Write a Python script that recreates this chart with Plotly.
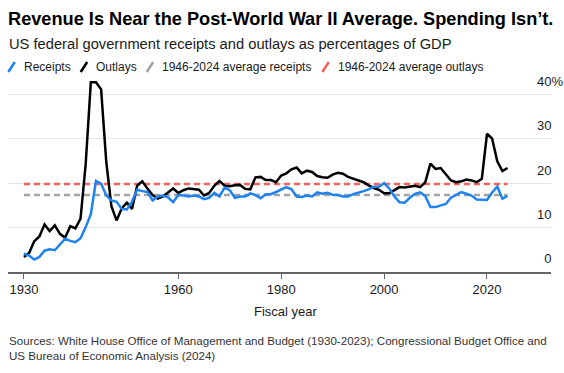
import plotly.graph_objects as go

years = list(range(1930, 2025))
receipts = [
    4.1, 3.7, 2.8, 3.4, 4.8, 5.1, 4.9, 6.1, 7.5, 7.0,
    6.7, 7.6, 10.1, 13.0, 20.5, 19.9, 17.2, 16.1, 15.8, 14.2,
    14.1, 15.8, 18.5, 18.2, 18.0, 16.1, 17.0, 17.2, 16.8, 15.7,
    17.3, 17.2, 17.0, 17.2, 17.0, 16.4, 16.7, 17.8, 17.0, 19.0,
    18.4, 16.7, 17.0, 17.0, 17.7, 17.3, 16.6, 17.5, 17.5, 18.0,
    18.5, 19.1, 18.6, 17.0, 16.9, 17.2, 17.0, 17.9, 17.6, 17.8,
    17.4, 17.3, 17.0, 17.0, 17.5, 17.8, 18.2, 18.6, 19.2, 19.2,
    20.0, 18.8, 17.0, 15.7, 15.6, 16.7, 17.6, 17.9, 17.1, 14.6,
    14.6, 15.0, 15.3, 16.7, 17.4, 18.0, 17.6, 17.2, 16.3, 16.3,
    16.2, 17.9, 19.2, 16.5, 17.1,
]
outlays = [
    3.4, 4.3, 6.9, 8.0, 10.7, 9.2, 10.5, 8.6, 7.7, 10.3,
    9.8, 12.0, 24.3, 42.7, 42.7, 41.1, 24.8, 14.8, 11.6, 14.3,
    15.6, 14.2, 19.4, 20.4, 18.8, 17.3, 16.5, 17.0, 17.9, 18.8,
    17.8, 18.4, 18.8, 18.6, 18.5, 17.2, 17.8, 19.4, 20.5, 19.4,
    19.3, 19.5, 19.6, 18.7, 18.6, 21.3, 21.4, 20.7, 20.7, 20.2,
    21.7, 22.2, 23.1, 23.5, 22.2, 22.8, 22.5, 21.6, 21.3, 21.2,
    21.9, 22.3, 22.1, 21.4, 21.0, 20.6, 20.2, 19.5, 18.9, 18.5,
    17.7, 17.7, 18.5, 19.1, 19.0, 19.2, 19.4, 19.1, 20.2, 24.4,
    23.2, 23.4, 21.9, 20.6, 20.2, 20.4, 20.8, 20.6, 20.2, 21.0,
    31.1, 30.0, 24.9, 22.7, 23.4,
]
avg_receipts = 17.3
avg_outlays = 19.8

x_ticks = [1930, 1960, 1980, 2000, 2020]
y_ticks = [0, 10, 20, 30, 40]
y_labels = ["0", "10", "20", "30", "40%"]
legend_names = ["Receipts", "Outlays", "1946-2024 average receipts",
                "1946-2024 average outlays"]

BLUE = "#1e82f0"
BLACK = "#000000"
GRAY = "#a3a3a3"
RED = "#f2625f"
legend_colors = [BLUE, BLACK, GRAY, RED]
FONT = "Liberation Sans, Arial, sans-serif"
TXT = "#1a1a1a"
HIDE = "<span style='color:rgba(0,0,0,0)'>%</span>"

W, H = 564, 373
ML, MR, MT, MB = 8, 0, 72, 101
PW = W - ML - MR
PH = H - MT - MB


def px(xp):
    return (xp - ML) / PW


def py(yp):
    return (H - MB - yp) / PH


fig = go.Figure()

fig.add_trace(go.Scatter(x=years, y=[avg_receipts] * len(years), mode="lines",
                         line=dict(color=GRAY, width=2.5, dash="6px,4px"),
                         name=legend_names[2], hoverinfo="skip"))
fig.add_trace(go.Scatter(x=years, y=[avg_outlays] * len(years), mode="lines",
                         line=dict(color=RED, width=2.5, dash="6px,4px"),
                         name=legend_names[3], hoverinfo="skip"))
fig.add_trace(go.Scatter(x=years, y=outlays, mode="lines", name=legend_names[1],
                         line=dict(color=BLACK, width=2.5)))
fig.add_trace(go.Scatter(x=years, y=receipts, mode="lines", name=legend_names[0],
                         line=dict(color=BLUE, width=2.5)))

ticktext = [t if t.endswith("%") else t + HIDE for t in y_labels]

fig.update_layout(
    width=W, height=H,
    margin=dict(l=ML, r=MR, t=MT, b=MB),
    paper_bgcolor="white", plot_bgcolor="white",
    font=dict(family=FONT, color=TXT, size=13),
    showlegend=False,
    title=dict(text="<b>Revenue Is Near the Post-World War II Average. Spending Isn’t.</b>",
               x=8 / W, xanchor="left", xref="container",
               y=1 - 18.5 / H, yanchor="middle", yref="container",
               font=dict(size=18.2, color="#000000", family=FONT)),
    xaxis=dict(domain=[0, 543.3 / PW], range=[1926.9, 2032.5],
               tickvals=x_ticks, ticks="outside", ticklen=5, tickwidth=1,
               tickcolor="#666666", showline=True, linecolor="#666666",
               linewidth=1.5, showgrid=False, zeroline=False, automargin=False,
               tickfont=dict(size=13, color=TXT)),
    yaxis=dict(range=[0, 45], anchor="free", position=1, side="right",
               tickvals=y_ticks, ticktext=ticktext,
               ticklabelposition="inside top", ticks="", ticklabelshift=-4,
               ticklabelstandoff=-2,
               showgrid=True, gridcolor="#e6e6e6", gridwidth=1.2,
               zeroline=False, showline=False, automargin=False,
               tickfont=dict(size=13, color=TXT)),
)

# legend drawn in the header row
text_starts = [23.3, 95.7, 161.7, 337.3]
for name, col, xs in zip(legend_names, legend_colors, text_starts):
    fig.add_shape(type="line", xref="paper", yref="paper",
                  x0=px(xs - 15), y0=py(72), x1=px(xs - 8.5), y1=py(62),
                  line=dict(color=col, width=2.5))
    fig.add_annotation(text=name, xref="paper", yref="paper",
                       x=px(xs - 1.5), y=py(67), xanchor="left", yanchor="middle",
                       showarrow=False, font=dict(size=12, color=TXT))

fig.add_annotation(text="US federal government receipts and outlays as percentages of GDP",
                   xref="paper", yref="paper", x=px(6.5), y=py(44.3),
                   xanchor="left", yanchor="middle", showarrow=False,
                   font=dict(size=14.7, color=TXT))
fig.add_annotation(text="Fiscal year", xref="paper", yref="paper",
                   x=px(286), y=py(311.7),
                   xanchor="center", yanchor="middle", showarrow=False,
                   font=dict(size=13, color=TXT))
fig.add_annotation(text="Sources: White House Office of Management and Budget (1930-2023); Congressional Budget Office and<br>US Bureau of Economic Analysis (2024)",
                   xref="paper", yref="paper", x=px(6.5), y=py(347.5),
                   xanchor="left", yanchor="middle", align="left", showarrow=False,
                   font=dict(size=11.6, color="#333333"))

fig.write_html("out.html", config={"displayModeBar": False},
               post_script="document.body.style.margin='0';")
